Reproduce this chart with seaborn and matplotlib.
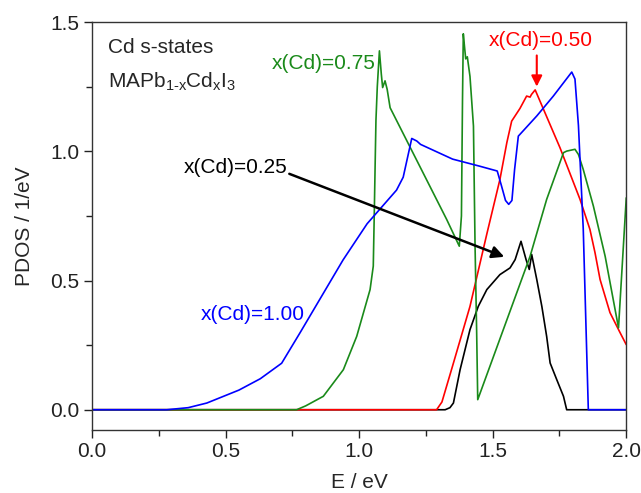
import matplotlib
matplotlib.use("Agg")
import matplotlib.pyplot as plt
import seaborn as sns
from matplotlib.ticker import MultipleLocator, FormatStrFormatter

# x(Cd)=1.00 (blue)
e_100 = [0.0, 0.28, 0.36, 0.43, 0.55, 0.63, 0.71, 0.78, 0.82, 0.94, 1.03, 1.14, 1.165,
         1.197, 1.216, 1.23, 1.35, 1.45, 1.517, 1.532, 1.548, 1.56, 1.572, 1.582, 1.596,
         1.665, 1.727, 1.796, 1.808, 1.821, 1.839, 1.858, 2.0]
pdos_100 = [0.0, 0.0, 0.008, 0.026, 0.076, 0.12, 0.18, 0.30, 0.37, 0.58, 0.72, 0.85, 0.90,
            1.05, 1.04, 1.027, 0.97, 0.943, 0.924, 0.87, 0.81, 0.795, 0.81, 0.93, 1.059,
            1.137, 1.214, 1.307, 1.28, 1.10, 0.70, 0.0, 0.0]

# x(Cd)=0.75 (green)
e_075 = [0.0, 0.766, 0.80, 0.866, 0.941, 0.991, 1.041, 1.053, 1.057, 1.06, 1.063, 1.068,
         1.076, 1.083, 1.088, 1.097, 1.105, 1.116, 1.328, 1.375, 1.383, 1.387, 1.39, 1.395,
         1.399, 1.405, 1.415, 1.428, 1.434, 1.44, 1.444, 1.64, 1.702, 1.765, 1.777, 1.808,
         1.821, 1.839, 1.877, 1.921, 1.971, 2.0]
pdos_075 = [0.0, 0.0, 0.015, 0.052, 0.155, 0.284, 0.465, 0.556, 0.775, 0.95, 1.12, 1.25,
            1.389, 1.30, 1.247, 1.273, 1.24, 1.169, 0.736, 0.633, 0.75, 1.2, 1.455, 1.40,
            1.358, 1.366, 1.29, 1.098, 0.633, 0.30, 0.039, 0.594, 0.814, 0.995, 1.001, 1.008,
            0.988, 0.930, 0.788, 0.594, 0.317, 0.82]

# x(Cd)=0.50 (red)
e_050 = [0.0, 1.29, 1.31, 1.35, 1.415, 1.478, 1.527, 1.553, 1.571, 1.602, 1.627, 1.64,
         1.645, 1.659, 1.752, 1.827, 1.864, 1.883, 1.902, 1.939, 1.977, 2.0]
pdos_050 = [0.0, 0.0, 0.03, 0.17, 0.40, 0.68, 0.891, 1.034, 1.117, 1.166, 1.214, 1.21,
            1.22, 1.238, 1.014, 0.814, 0.698, 0.608, 0.504, 0.376, 0.298, 0.252]

# x(Cd)=0.25 (black)
e_025 = [0.0, 1.322, 1.34, 1.353, 1.378, 1.415, 1.446, 1.478, 1.527, 1.565, 1.584, 1.606,
         1.625, 1.637, 1.646, 1.665, 1.684, 1.702, 1.715, 1.74, 1.765, 1.777, 2.0]
pdos_025 = [0.0, 0.0, 0.008, 0.026, 0.155, 0.31, 0.40, 0.465, 0.523, 0.549, 0.581, 0.652,
            0.581, 0.543, 0.601, 0.504, 0.40, 0.284, 0.181, 0.116, 0.052, 0.0, 0.0]

sns.set_theme(style="ticks")
plt.rcParams["font.family"] = ["Liberation Sans", "DejaVu Sans"]
plt.rcParams["mathtext.fontset"] = "custom"
plt.rcParams["mathtext.rm"] = "Liberation Sans"
plt.rcParams["mathtext.it"] = "Liberation Sans:italic"

GREEN = "#1a8a1a"
FS = 15

fig = plt.figure(figsize=(6.41, 4.93), dpi=100)
ax = fig.add_axes([0.1435, 0.128, 0.8335, 0.827])

# drawn back to front: black, red, green, blue
series = [
    (e_025, pdos_025, "black"),
    (e_050, pdos_050, "#ff0000"),
    (e_075, pdos_075, GREEN),
    (e_100, pdos_100, "#0000ff"),
]
for e, p, c in series:
    sns.lineplot(x=e, y=p, color=c, lw=1.2, ax=ax, estimator=None, sort=False)

ax.set_xlim(0.0, 2.0)
ax.set_ylim(-0.078, 1.5)
ax.xaxis.set_major_locator(MultipleLocator(0.5))
ax.xaxis.set_minor_locator(MultipleLocator(0.25))
ax.yaxis.set_major_locator(MultipleLocator(0.5))
ax.yaxis.set_minor_locator(MultipleLocator(0.25))
ax.xaxis.set_major_formatter(FormatStrFormatter("%.1f"))
ax.yaxis.set_major_formatter(FormatStrFormatter("%.1f"))
ax.tick_params(which="major", direction="out", length=6, width=1, labelsize=FS,
               colors="#222222", pad=3)
ax.tick_params(which="minor", direction="out", length=4, width=1, colors="#222222")
for s in ax.spines.values():
    s.set_color("#333333")
    s.set_linewidth(1.0)

ax.set_xlabel("E / eV", fontsize=FS, labelpad=8)
ax.set_ylabel("PDOS / 1/eV", fontsize=FS, labelpad=12)

ax.text(0.061, 1.38, "Cd s-states", fontsize=FS, va="baseline")
ax.text(0.061, 1.247, "MAPb$_\\mathrm{1\u2010x}$Cd$_\\mathrm{x}$I$_\\mathrm{3}$",
        fontsize=FS, va="baseline")
ax.text(0.673, 1.32, "x(Cd)=0.75", fontsize=FS, color=GREEN, va="baseline")
ax.text(1.484, 1.408, "x(Cd)=0.50", fontsize=FS, color="#ff0000", va="baseline")
ax.text(0.342, 0.917, "x(Cd)=0.25", fontsize=FS, color="black", va="baseline")
ax.text(0.408, 0.349, "x(Cd)=1.00", fontsize=FS, color="#0000ff", va="baseline")

ax.annotate("", xy=(1.665, 1.24), xytext=(1.665, 1.382),
            arrowprops=dict(arrowstyle="-|>", color="#ff0000", lw=1.5, mutation_scale=16))
ax.annotate("", xy=(1.553, 0.588), xytext=(0.729, 0.917),
            arrowprops=dict(arrowstyle="-|>", color="black", lw=1.8, mutation_scale=18))

fig.savefig("out.png", dpi=100)
